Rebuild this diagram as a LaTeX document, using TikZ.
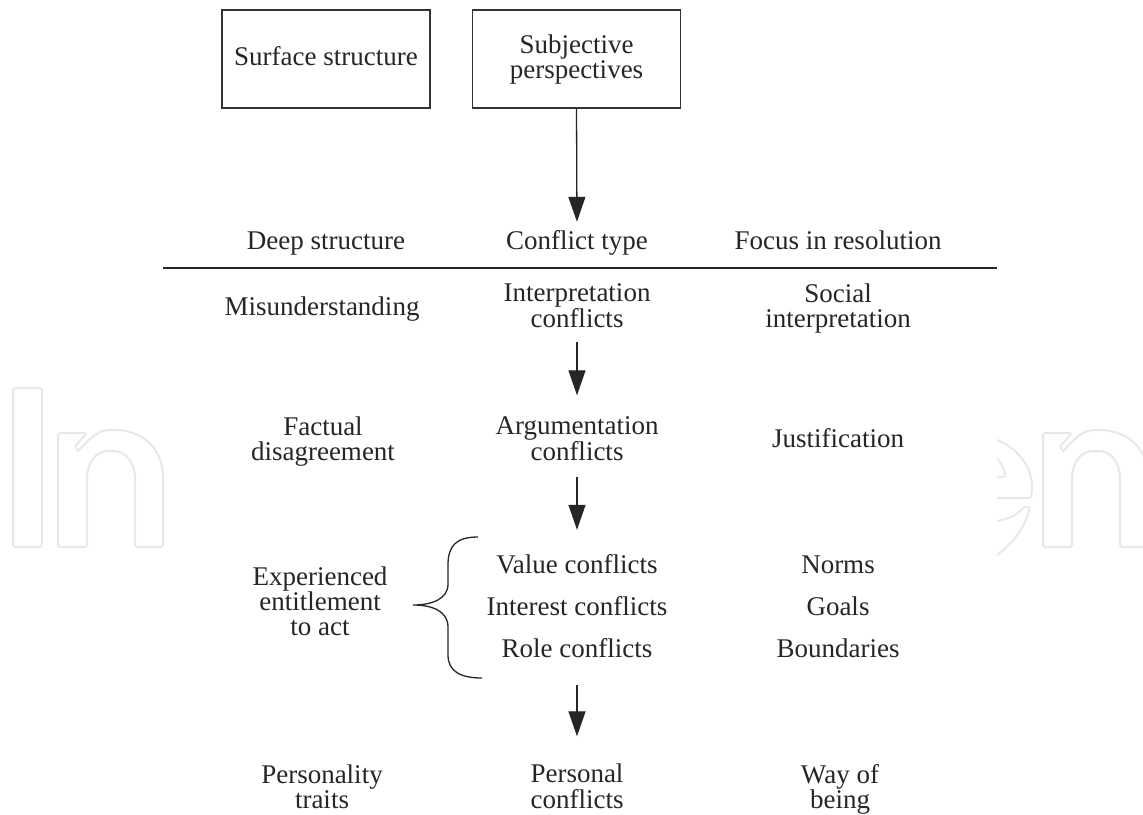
\documentclass[tikz,border=0pt]{standalone}
\usepackage{fontspec}
\setmainfont{Liberation Serif}
\usetikzlibrary{arrows.meta}
\newcommand\tstrut{\rule[-6pt]{0pt}{25pt}}
\begin{document}
\begin{tikzpicture}[x=1pt,y=-1pt,
  txt/.style={font=\fontsize{27}{25}\selectfont, align=center, inner sep=0pt, text=black!85},
  box/.style={txt, draw=black!80, line width=1.3pt, minimum width=208pt, minimum height=98pt},
  flow/.style={draw=black!85, line width=1.3pt, -{Triangle[length=25pt,width=17pt]}},
  rule/.style={draw=black!85, line width=1.4pt},
  brace/.style={draw=black!85, line width=1.3pt},
  wm/.style={draw=black!9, line width=2pt, rounded corners=2.5pt}]
\useasboundingbox[fill=white] (0,0) rectangle (1143,814);

% watermark (faint outline letters)
\draw[wm] (13,388) rectangle (42,547);
\draw[wm] (58,547) -- (58,433) -- (87,433) -- (77,444) .. controls (75,447) and (78,451) .. (80,449)
  .. controls (92,436) and (100,430) .. (112,430) .. controls (142,430) and (163,448) .. (163,480)
  -- (163,547) -- (135,547) -- (135,482) .. controls (135,462) and (126,451) .. (111,451)
  .. controls (96,451) and (87,462) .. (87,482) -- (87,547) -- cycle;
\begin{scope}
  \clip (997,400) rectangle (1143,560);
  \draw[wm] (960,434) .. controls (1000,432) and (1032,455) .. (1032,490) -- (1031,498) -- (980,498);
  \draw[wm] (990,452) .. controls (998,458) and (1004,466) .. (1005,477) -- (980,477);
  \draw[wm] (990,560) .. controls (1012,545) and (1024,530) .. (1030,507) -- (1024,507)
    .. controls (1016,516) and (1007,520) .. (990,522);
  \begin{scope}[xshift=985pt]
  \draw[wm] (58,547) -- (58,433) -- (87,433) -- (77,444) .. controls (75,447) and (78,451) .. (80,449)
    .. controls (92,436) and (100,430) .. (112,430) .. controls (142,430) and (163,448) .. (163,480)
    -- (163,547) -- (135,547) -- (135,482) .. controls (135,462) and (126,451) .. (111,451)
    .. controls (96,451) and (87,462) .. (87,482) -- (87,547) -- cycle;
  \end{scope}
\end{scope}

% top boxes
\node[box] (ss) at (326,59) {Surface structure\tstrut};
\node[box] (sp) at (576.5,59) {Subjective\tstrut\\perspectives\tstrut};

% headers
\node[txt] (hds) at (326,242.5) {Deep structure\tstrut};
\node[txt] (ct) at (577,242.5) {Conflict type\tstrut};
\node[txt] (hfr) at (838,242.5) {Focus in resolution\tstrut};
\coordinate (hl) at (163,268);
\coordinate (hr) at (997,268);
\draw[rule] (hl) -- (hr);

% row 1
\node[txt] (mis) at (322,308.5) {Misunderstanding\tstrut};
\node[txt] (ic) at (577,308) {Interpretation\tstrut\\conflicts\tstrut};
\node[txt] (si) at (838,308) {Social\tstrut\\interpretation\tstrut};

% row 2
\node[txt] (fd) at (323,441) {Factual\tstrut\\disagreement\tstrut};
\node[txt] (ac) at (577,441) {Argumentation\tstrut\\conflicts\tstrut};
\node[txt] (ju) at (838,440.5) {Justification\tstrut};

% row 3
\node[txt] (ee) at (320,603.5) {Experienced\tstrut\\entitlement\tstrut\\to act\tstrut};
\node[txt] (vc) at (577,566.5) {Value conflicts\tstrut};
\node[txt] (inc) at (577,608.5) {Interest conflicts\tstrut};
\node[txt] (rc) at (577,650.5) {Role conflicts\tstrut};
\node[txt] (no) at (838,566.5) {Norms\tstrut};
\node[txt] (go) at (838,608.5) {Goals\tstrut};
\node[txt] (bo) at (838,650.5) {Boundaries\tstrut};
\coordinate (bt) at (478,537);
\draw[brace] (bt) .. controls (456,537) and (448,546) .. (448,565) -- (448,584)
  .. controls (448,599) and (432,605) .. (413,605)
  .. controls (432,605) and (448,611) .. (448,627) -- (448,655)
  .. controls (448,671) and (460,678) .. (482,678);

% row 4
\node[txt] (pt) at (322,789) {Personality\tstrut\\traits\tstrut};
\node[txt] (pc) at (577,789) {Personal\tstrut\\conflicts\tstrut};
\node[txt] (wb) at (840,789) {Way of\tstrut\\being\tstrut};

% arrows
\draw[flow, shorten >=8pt] (sp.south) -- (ct.north);
\draw[flow, shorten <=8pt, shorten >=20pt] (ic.south) -- (ac.north);
\draw[flow, shorten <=10pt, shorten >=24pt] (ac.south) -- (vc.north);
\draw[flow, shorten <=22pt, shorten >=27pt] (rc.south) -- (pc.north);
\end{tikzpicture}
\end{document}
